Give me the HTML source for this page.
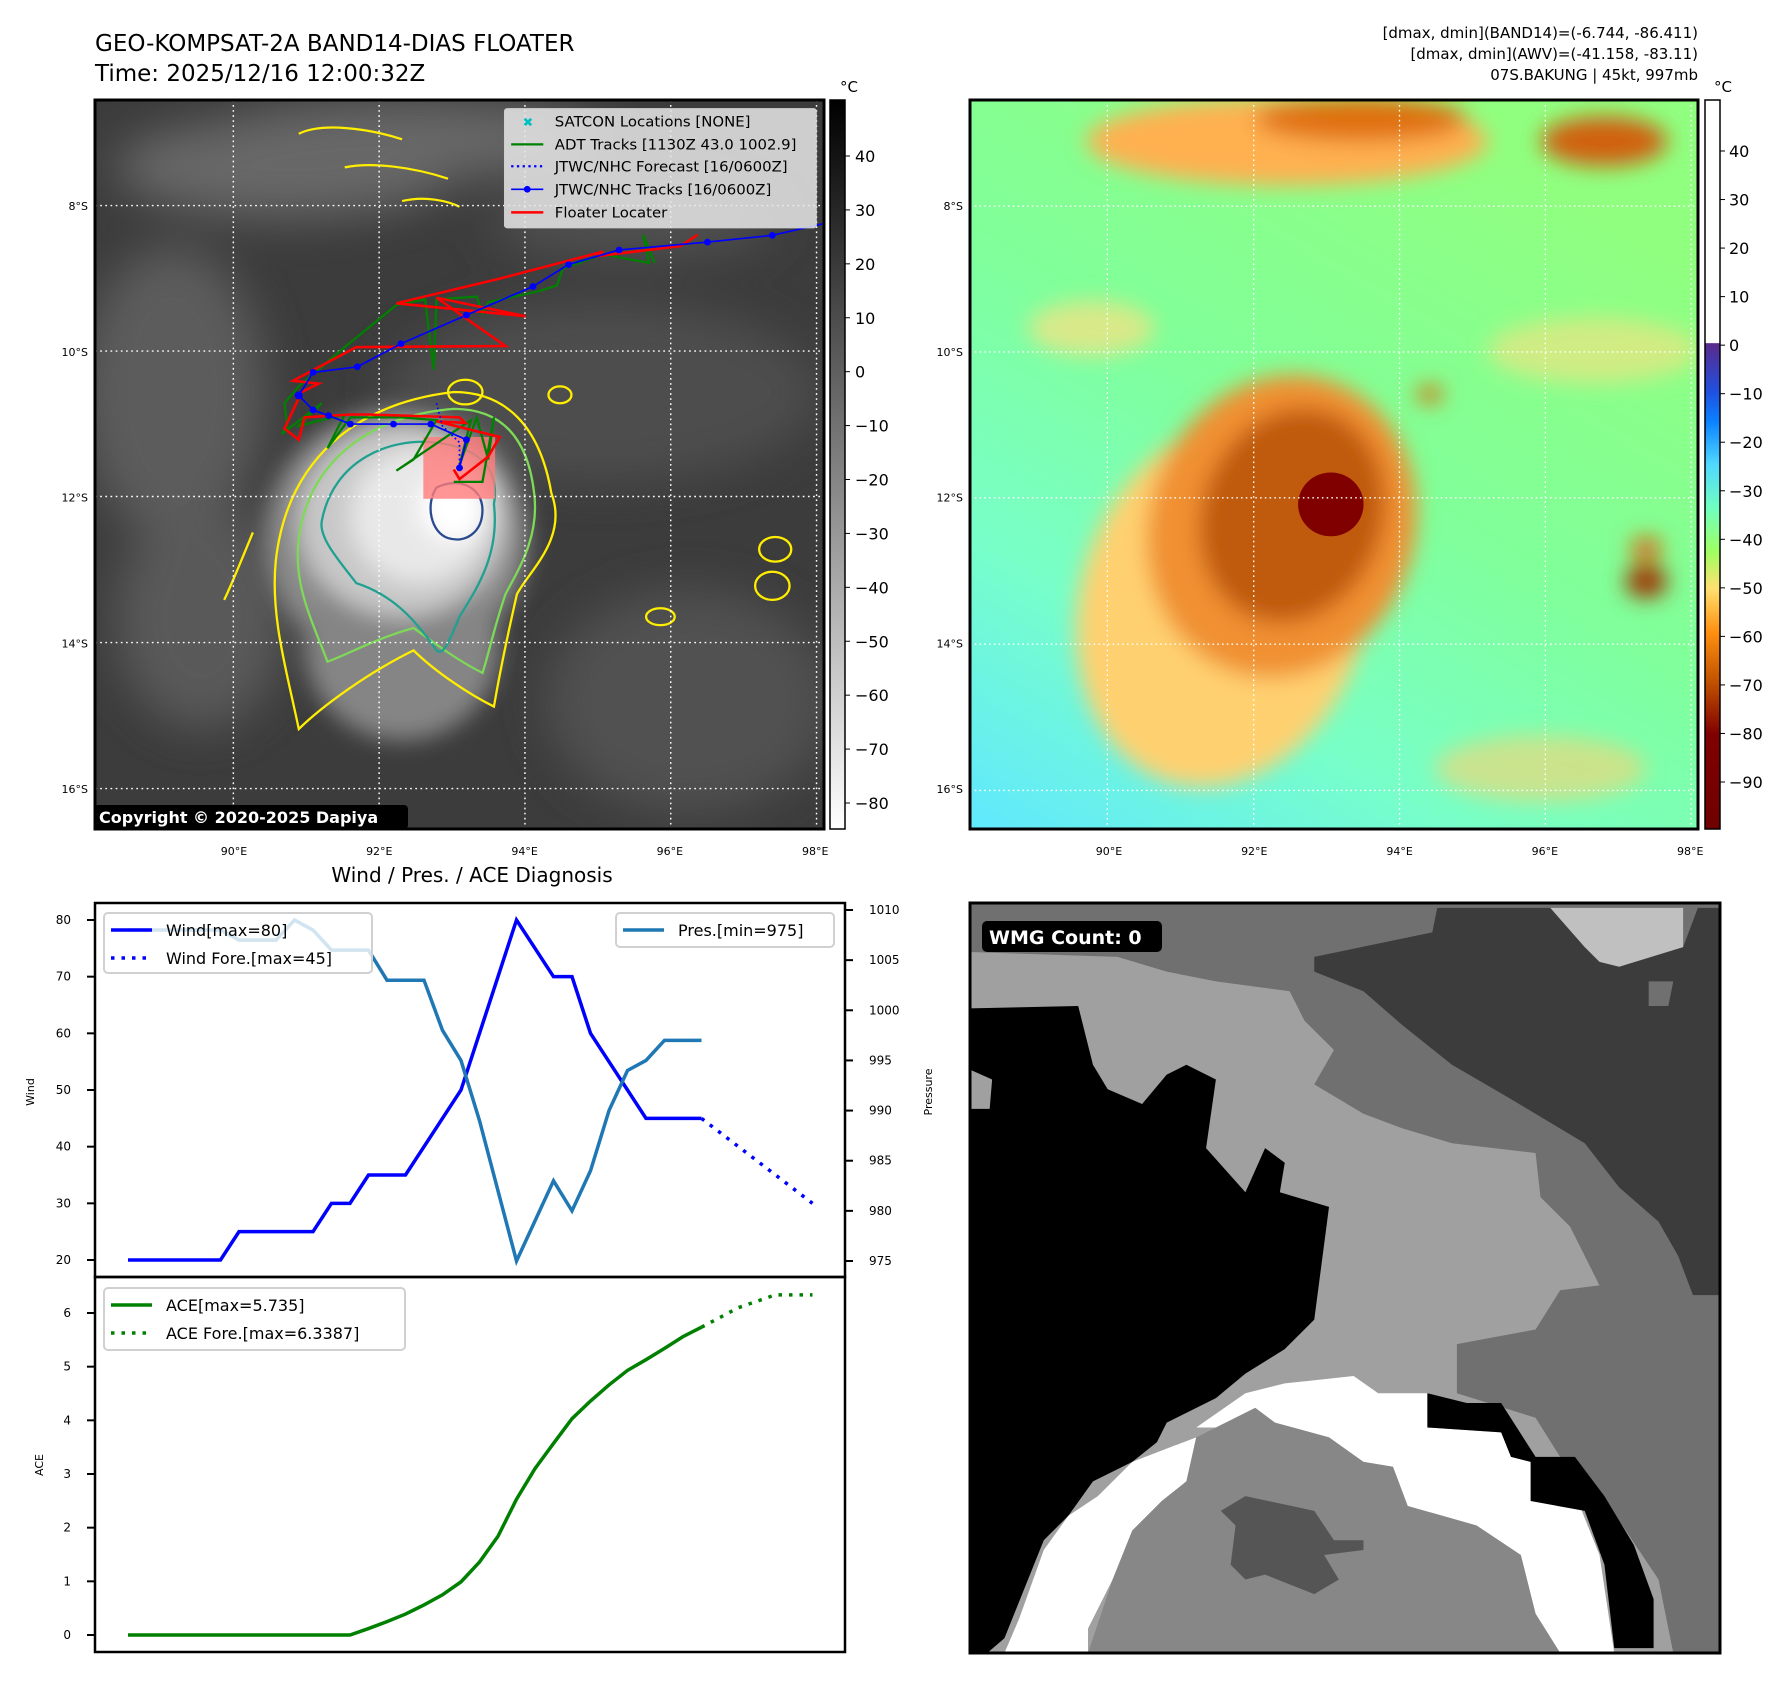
<!DOCTYPE html>
<html><head><meta charset="utf-8"><style>
html,body{margin:0;padding:0;background:#fff;}
svg text{font-family:"DejaVu Sans","Liberation Sans",sans-serif;}
</style></head><body>
<svg id="root" width="1788" height="1690" viewBox="0 0 1788 1690" xmlns="http://www.w3.org/2000/svg">
<defs>
<filter id="b8" x="-50%" y="-50%" width="200%" height="200%"><feGaussianBlur stdDeviation="8"/></filter>
<filter id="b20" x="-50%" y="-50%" width="200%" height="200%"><feGaussianBlur stdDeviation="20"/></filter>
<filter id="b40" x="-50%" y="-50%" width="200%" height="200%"><feGaussianBlur stdDeviation="40"/></filter>
<linearGradient id="cb1" x1="0" y1="0" x2="0" y2="1"><stop offset="0" stop-color="#000"/><stop offset="1" stop-color="#fff"/></linearGradient>
<linearGradient id="cb2" x1="0" y1="0" x2="0" y2="1">
<stop offset="0" stop-color="#fff"/><stop offset="0.333" stop-color="#fff"/>
<stop offset="0.334" stop-color="#5a2a8c"/><stop offset="0.40" stop-color="#2050e0"/><stop offset="0.44" stop-color="#0a80ff"/>
<stop offset="0.50" stop-color="#50d8ff"/><stop offset="0.56" stop-color="#70ffc0"/><stop offset="0.62" stop-color="#a0ff60"/>
<stop offset="0.67" stop-color="#ffe070"/><stop offset="0.73" stop-color="#ff9010"/><stop offset="0.80" stop-color="#c05000"/>
<stop offset="0.87" stop-color="#800000"/><stop offset="1" stop-color="#700000"/></linearGradient>
<linearGradient id="bg2" x1="0" y1="1" x2="0.6" y2="0"><stop offset="0" stop-color="#60e8ff"/><stop offset="0.3" stop-color="#78ffc8"/><stop offset="0.6" stop-color="#80ff9a"/><stop offset="1" stop-color="#90ff80"/></linearGradient>
</defs>

<text x="95" y="51" font-size="23">GEO-KOMPSAT-2A BAND14-DIAS FLOATER</text>
<text x="95" y="81" font-size="23">Time: 2025/12/16 12:00:32Z</text>
<g font-size="15" text-anchor="end">
<text x="1698" y="38">[dmax, dmin](BAND14)=(-6.744, -86.411)</text>
<text x="1698" y="59">[dmax, dmin](AWV)=(-41.158, -83.11)</text>
<text x="1698" y="80">07S.BAKUNG | 45kt, 997mb</text>
</g>

<!-- MAP 1 -->
<svg x="95" y="100" width="729" height="729" viewBox="165 180 1270 1298" preserveAspectRatio="none">
<rect x="165" y="180" width="1270" height="1298" fill="#3c3c3c"/>
<g filter="url(#b40)" opacity="0.7">
<ellipse cx="500" cy="300" rx="300" ry="90" fill="#7a7a7a"/>
<ellipse cx="300" cy="700" rx="160" ry="260" fill="#6a6a6a"/>
<ellipse cx="1050" cy="700" rx="380" ry="160" fill="#555"/>
<ellipse cx="1200" cy="1250" rx="250" ry="200" fill="#5a5a5a"/>
<ellipse cx="700" cy="250" rx="350" ry="70" fill="#7a7a7a"/>
<ellipse cx="350" cy="1100" rx="150" ry="200" fill="#666"/>
<ellipse cx="1100" cy="400" rx="250" ry="60" fill="#5a5a5a"/>
</g>
<g filter="url(#b20)">
<ellipse cx="690" cy="960" rx="230" ry="230" fill="#8a8a8a"/>
<ellipse cx="700" cy="1150" rx="170" ry="170" fill="#858585"/>
<ellipse cx="700" cy="930" rx="180" ry="170" fill="#c8c8c8"/>
<ellipse cx="730" cy="920" rx="120" ry="120" fill="#e8e8e8"/>
<ellipse cx="790" cy="905" rx="60" ry="60" fill="#fff"/>
</g>
<g fill="none" stroke-width="4">
<path d="M480,1000 C500,820 620,720 790,700 C880,700 940,760 960,880 C990,960 920,1020 900,1060 C880,1150 870,1200 860,1260 C820,1240 760,1200 720,1160 C640,1200 560,1260 520,1300 C500,1200 470,1100 480,1000Z" stroke="#ffee00"/>
<path d="M520,960 C540,810 660,740 790,730 C880,730 920,790 930,880 C940,960 900,1020 880,1060 C860,1120 850,1170 840,1200 C800,1180 760,1150 720,1120 C650,1140 600,1170 570,1180 C540,1100 510,1040 520,960Z" stroke="#7ed957"/>
<path d="M560,930 C580,820 680,780 760,790 C840,800 870,840 860,900 C870,990 830,1050 800,1100 C780,1150 770,1170 760,1160 C720,1100 680,1060 620,1040 C590,1000 555,960 560,930Z" stroke="#20a090"/>
<path d="M760,870 C800,850 840,870 840,910 C840,950 810,970 780,960 C750,950 740,900 760,870Z" stroke="#2a4a90"/>
<ellipse cx="810" cy="700" rx="30" ry="22" stroke="#ffee00"/>
<ellipse cx="975" cy="705" rx="20" ry="15" stroke="#ffee00"/>
<ellipse cx="1350" cy="980" rx="28" ry="22" stroke="#ffee00"/>
<ellipse cx="1345" cy="1045" rx="30" ry="25" stroke="#ffee00"/>
<ellipse cx="1150" cy="1100" rx="25" ry="15" stroke="#ffee00"/>
<path d="M520,240 C560,220 640,230 700,250 M600,300 C650,290 720,300 780,320 M700,360 C740,350 780,360 800,370" stroke="#ffee00"/>
<path d="M440,950 C420,1000 400,1050 390,1070" stroke="#ffee00"/>
</g>
<g stroke="#fff" stroke-width="2.5" stroke-dasharray="3,6">
<line x1="406" y1="180" x2="406" y2="1478"/><line x1="660" y1="180" x2="660" y2="1478"/><line x1="914" y1="180" x2="914" y2="1478"/><line x1="1168" y1="180" x2="1168" y2="1478"/><line x1="1422" y1="180" x2="1422" y2="1478"/>
<line x1="165" y1="368" x2="1435" y2="368"/><line x1="165" y1="627" x2="1435" y2="627"/><line x1="165" y1="886" x2="1435" y2="886"/><line x1="165" y1="1146" x2="1435" y2="1146"/><line x1="165" y1="1406" x2="1435" y2="1406"/>
</g>
<rect x="737" y="780" width="125" height="110" fill="#ff7a7a" opacity="0.8"/>
<polyline fill="none" stroke="#008000" stroke-width="4" points="1140,470 1120,420 1130,470 1050,455 980,480 970,510 940,520 850,540 840,560 830,530 760,535 755,660 740,535 690,545 600,620 520,690 495,720 500,760 490,775 560,720 520,760 600,740 570,800 610,745 700,745 760,750 720,820 690,840 820,750 800,830 830,745 850,820 860,745 840,860 790,860"/>
<polyline fill="none" stroke="#ff0000" stroke-width="4.5" points="1215,420 1185,440 1040,458 1050,450 870,498 690,542 915,565 760,532 880,618 620,620 510,680 555,685 525,700 495,765 520,785 530,745 610,740 640,740 800,745 810,755 760,752 870,780 850,815 800,855 790,838"/>
<polyline fill="none" stroke="#0000ff" stroke-width="3" points="1435,400 1345,421 1232,433 1078,447 990,473 928,512 812,563 698,614 622,655 545,665 520,706 545,732 572,742 610,757 685,757 750,757 812,785 800,835"/>
<g fill="#0000ff">
<circle cx="1345" cy="421" r="6"/><circle cx="1232" cy="433" r="6"/><circle cx="1078" cy="447" r="6"/><circle cx="990" cy="473" r="6"/><circle cx="928" cy="512" r="6"/><circle cx="812" cy="563" r="6"/><circle cx="698" cy="614" r="6"/><circle cx="622" cy="655" r="6"/><circle cx="545" cy="665" r="6"/><circle cx="520" cy="706" r="7"/><circle cx="545" cy="732" r="6"/><circle cx="572" cy="742" r="6"/><circle cx="610" cy="757" r="6"/><circle cx="685" cy="757" r="6"/><circle cx="750" cy="757" r="6"/><circle cx="812" cy="785" r="6"/><circle cx="800" cy="835" r="6"/>
</g>
<polyline fill="none" stroke="#0000ff" stroke-width="3" stroke-dasharray="3,5" points="760,720 770,760 800,790 800,835"/>
<g>
<rect x="878" y="195" width="544" height="213" rx="5" fill="#e8e8e8" fill-opacity="0.85" stroke="#ccc"/>
<g font-size="26" font-family="DejaVu Sans, sans-serif">
<text x="910" y="227" fill="#00bfbf" font-size="22" font-weight="bold">✖</text><text x="966" y="227">SATCON Locations [NONE]</text>
<line x1="890" y1="259" x2="946" y2="259" stroke="#008000" stroke-width="4"/><text x="966" y="268">ADT Tracks [1130Z 43.0 1002.9]</text>
<line x1="890" y1="298" x2="946" y2="298" stroke="#0000ff" stroke-width="4" stroke-dasharray="4,6"/><text x="966" y="307">JTWC/NHC Forecast [16/0600Z]</text>
<line x1="890" y1="339" x2="946" y2="339" stroke="#0000ff" stroke-width="3"/><circle cx="918" cy="339" r="6" fill="#0000ff"/><text x="966" y="348">JTWC/NHC Tracks [16/0600Z]</text>
<line x1="890" y1="380" x2="946" y2="380" stroke="#ff0000" stroke-width="4.5"/><text x="966" y="389">Floater Locater</text>
</g></g>
</svg>
<rect x="95" y="100" width="729" height="729" fill="none" stroke="#000" stroke-width="3"/>
<rect x="94" y="805" width="314" height="24" rx="4" fill="#000"/>
<text x="99" y="823" font-size="16" font-weight="bold" fill="#fff">Copyright © 2020-2025 Dapiya</text>

<rect x="830" y="100" width="15" height="729" fill="url(#cb1)" stroke="#000" stroke-width="1.5"/>
<text x="840" y="92" font-size="15">°C</text>
<g id="cb1labels" font-size="16"></g>

<!-- MAP 2 -->
<svg x="970" y="100" width="728" height="729" viewBox="20 185 1378 1325" preserveAspectRatio="none">
<rect x="20" y="185" width="1378" height="1325" fill="url(#bg2)"/>
<g filter="url(#b20)">
<ellipse cx="620" cy="260" rx="380" ry="80" fill="#ffb050"/>
<ellipse cx="760" cy="220" rx="200" ry="40" fill="#e07010"/>
<ellipse cx="1220" cy="260" rx="120" ry="45" fill="#d06010"/>
<ellipse cx="250" cy="600" rx="120" ry="50" fill="#ffe080" opacity="0.7"/>
<ellipse cx="1200" cy="640" rx="200" ry="60" fill="#ffe080" opacity="0.6"/>
<ellipse cx="500" cy="1100" rx="270" ry="340" fill="#ffd070" transform="rotate(20 500 1100)"/>
<ellipse cx="610" cy="960" rx="250" ry="280" fill="#f09030" transform="rotate(25 610 960)"/>
<ellipse cx="630" cy="940" rx="170" ry="200" fill="#c05a10" transform="rotate(25 630 940)"/>
<ellipse cx="1300" cy="1060" rx="40" ry="30" fill="#a03000"/>
<ellipse cx="1300" cy="1000" rx="30" ry="20" fill="#e06010"/>
<ellipse cx="890" cy="720" rx="25" ry="15" fill="#e06010"/>
<ellipse cx="1100" cy="1400" rx="200" ry="60" fill="#ffd070" opacity="0.6"/>
</g>
<ellipse cx="703" cy="920" rx="62" ry="58" fill="#800000"/>
<g stroke="#fff" stroke-width="2.5" stroke-dasharray="3,6">
<line x1="280" y1="185" x2="280" y2="1510"/><line x1="557" y1="185" x2="557" y2="1510"/><line x1="833" y1="185" x2="833" y2="1510"/><line x1="1109" y1="185" x2="1109" y2="1510"/><line x1="1385" y1="185" x2="1385" y2="1510"/>
<line x1="20" y1="378" x2="1398" y2="378"/><line x1="20" y1="643" x2="1398" y2="643"/><line x1="20" y1="908" x2="1398" y2="908"/><line x1="20" y1="1174" x2="1398" y2="1174"/><line x1="20" y1="1440" x2="1398" y2="1440"/>
</g>
</svg>
<rect x="970" y="100" width="728" height="729" fill="none" stroke="#000" stroke-width="3"/>
<rect x="1705" y="100" width="15" height="729" fill="url(#cb2)" stroke="#000" stroke-width="1.5"/>
<text x="1714" y="92" font-size="15">°C</text>
<g id="cb2labels" font-size="16"></g>

<g id="maplabels" font-size="11"></g>

<text x="472" y="882" font-size="20" text-anchor="middle">Wind / Pres. / ACE Diagnosis</text>
<g id="chart"></g>

<svg x="970" y="903" width="750" height="750" viewBox="0 0 1525 1530" preserveAspectRatio="none">
<rect width="1525" height="1530" fill="#a0a0a0"/>
<polygon fill="#707070" points="0,0 1525,0 1525,1530 1430,1530 1400,1380 1300,1230 1200,1130 1150,1050 990,1000 990,900 1150,870 1200,790 1280,780 1220,660 1160,600 1150,510 980,490 880,460 800,430 700,370 740,300 680,240 650,180 500,160 400,140 300,110 0,100"/>
<polygon fill="#3c3c3c" points="700,110 940,60 950,10 1100,10 1180,10 1250,90 1450,90 1480,10 1525,10 1525,800 1470,800 1440,720 1400,650 1320,580 1250,490 1100,400 980,330 880,250 800,180 700,140"/>
<polygon fill="#707070" points="1380,160 1430,160 1420,210 1380,210"/>
<polygon fill="#c0c0c0" points="1180,10 1450,10 1450,90 1320,130 1280,120 1250,90"/>
<polygon fill="#000" points="0,215 220,210 250,330 280,380 350,410 400,350 440,330 500,360 480,500 560,590 600,500 640,530 630,590 730,620 700,850 640,910 560,960 500,1010 400,1060 380,1100 330,1140 250,1180 200,1250 150,1300 110,1400 70,1500 35,1530 0,1530"/>
<polygon fill="#a0a0a0" points="0,340 45,360 40,420 0,420"/>
<polygon fill="#fff" points="460,1070 560,1000 640,980 780,965 830,1000 930,1000 930,1070 1080,1080 1100,1130 1140,1140 1140,1220 1240,1230 1280,1330 1310,1530 1200,1530 1150,1450 1120,1330 1030,1270 890,1230 860,1150 800,1140 730,1090 620,1060 580,1030 500,1070"/>
<polygon fill="#fff" points="330,1140 460,1090 440,1180 390,1220 330,1280 290,1380 240,1480 240,1530 70,1530 100,1460 150,1320 200,1250 260,1210"/>
<polygon fill="#000" points="930,1000 1010,1020 1080,1020 1150,1130 1230,1130 1290,1210 1350,1310 1390,1420 1390,1520 1310,1520 1290,1350 1250,1240 1140,1220 1140,1140 1100,1130 1080,1080 930,1070"/>
<polygon fill="#878787" points="460,1090 580,1030 620,1060 730,1090 800,1140 860,1150 890,1230 1030,1270 1120,1330 1150,1450 1200,1530 240,1530 290,1380 330,1280 390,1220 440,1180"/>
<polygon fill="#555" points="510,1240 560,1210 700,1240 740,1300 800,1300 800,1320 720,1330 750,1380 700,1410 600,1370 560,1380 530,1350 540,1270"/>
</svg>
<rect x="970" y="903" width="750" height="750" fill="none" stroke="#000" stroke-width="3"/>
<rect x="982" y="921" width="180" height="31" rx="5" fill="#000"/>
<text x="989" y="944" font-size="19" font-weight="bold" fill="#fff">WMG Count: 0</text>
</svg>

<script>
const windIdx = [0,1,2,3,4,5,6,7,8,9,10,11,12,13,14,15,16,17,18,19,20,21,22,23,24,25,26,27,28,29,30,31];
const windVals = [20,20,20,20,20,20,25,25,25,25,25,30,30,35,35,35,40,45,50,60,70,80,75,70,70,60,55,50,45,45,45,45];
const windForeIdx = [31,34,37];
const windForeVals = [45,37.5,30];
const presVals = [1008,1008,1008,1008,1008,1008,1007,1007,1007,1009,1008,1006,1006,1006,1003,1003,1003,998,995,989,982,975,979,983,980,984,990,994,995,997,997,997];
const aceVals = [0,0,0,0,0,0,0,0,0,0,0,0,0,0.12,0.25,0.39,0.56,0.75,0.99,1.36,1.84,2.53,3.1,3.57,4.03,4.36,4.66,4.93,5.13,5.34,5.56,5.735];
const aceForeIdx = [31,33,35,37];
const aceForeVals = [5.735,6.1,6.3387,6.3387];
const windTicks = [20,30,40,50,60,70,80];
const presTicks = [975,980,985,990,995,1000,1005,1010];
const aceTicks = [0,1,2,3,4,5,6];
const cb1Ticks = [40,30,20,10,0,-10,-20,-30,-40,-50,-60,-70,-80];
const cb2Ticks = [40,30,20,10,0,-10,-20,-30,-40,-50,-60,-70,-80,-90];
const lonTicks = ['90°E','92°E','94°E','96°E','98°E'];
const latTicks = ['8°S','10°S','12°S','14°S','16°S'];

const NS='http://www.w3.org/2000/svg';
function mk(tag, attrs, parent, txt){const e=document.createElementNS(NS,tag);for(const k in attrs)e.setAttribute(k,attrs[k]);if(txt!==undefined)e.textContent=txt;parent.appendChild(e);return e;}
const xS = i => 128 + i*18.5;
const yW = v => 1260 - (v-20)*(1260-920)/60;
const yP = v => 1261 - (v-975)*(1261-910)/35;
const yA = v => 1635 - v*(1635-1313)/6;
const chart=document.getElementById('chart');
function pts(idx, vals, fy){return idx.map((i,k)=>xS(i)+','+fy(vals[k])).join(' ');}

let f1=mk('rect',{x:95,y:903,width:750,height:374,fill:'none',stroke:'#000','stroke-width':2.5},chart);


let f2=mk('rect',{x:95,y:1277,width:750,height:375,fill:'none',stroke:'#000','stroke-width':2.5},chart);



windTicks.forEach(t=>{const y=yW(t);mk('line',{x1:87,y1:y,x2:95,y2:y,stroke:'#000','stroke-width':2},chart);
 const tx=mk('text',{x:71,y:y+4,'font-size':12,'text-anchor':'end'},chart,String(t));
 
 });
presTicks.forEach(t=>{const y=yP(t);mk('line',{x1:845,y1:y,x2:853,y2:y,stroke:'#000','stroke-width':2},chart);
 const tx=mk('text',{x:869,y:y+4,'font-size':12},chart,String(t));
 
 });
aceTicks.forEach(t=>{const y=yA(t);mk('line',{x1:87,y1:y,x2:95,y2:y,stroke:'#000','stroke-width':2},chart);
 const tx=mk('text',{x:71,y:y+4,'font-size':12,'text-anchor':'end'},chart,String(t));
 
 });
let l1=mk('text',{x:0,y:0,'font-size':11,'text-anchor':'middle',transform:'translate(34,1092) rotate(-90)'},chart,'Wind');


let l2=mk('text',{x:0,y:0,'font-size':11,'text-anchor':'middle',transform:'translate(932,1092) rotate(-90)'},chart,'Pressure');


let l3=mk('text',{x:0,y:0,'font-size':11,'text-anchor':'middle',transform:'translate(43,1465) rotate(-90)'},chart,'ACE');



let s1=mk('polyline',{points:pts(windIdx,windVals,yW),fill:'none',stroke:'#0000ff','stroke-width':3.5},chart);


let s2=mk('polyline',{points:pts(windForeIdx,windForeVals,yW),fill:'none',stroke:'#0000ff','stroke-width':3.5,'stroke-dasharray':'3.5,7'},chart);


let s3=mk('polyline',{points:pts(windIdx,presVals,yP),fill:'none',stroke:'#1f77b4','stroke-width':3.5},chart);


let s4=mk('polyline',{points:pts(windIdx,aceVals,yA),fill:'none',stroke:'#008000','stroke-width':3.5},chart);


let s5=mk('polyline',{points:pts(aceForeIdx,aceForeVals,yA),fill:'none',stroke:'#008000','stroke-width':3.5,'stroke-dasharray':'3.5,7'},chart);



function legend(name,x,y,w,h,rows){const g=mk('g',{},chart);
 
 
 mk('rect',{x:x,y:y,width:w,height:h,rx:4,fill:'#fff','fill-opacity':0.8,stroke:'#d0d0d0','stroke-width':2},g);
 rows.forEach((r,k)=>{const ry=y+17+k*28;const a={x1:x+7,y1:ry,x2:x+48,y2:ry,stroke:r[1],'stroke-width':3.5};if(r[2])a['stroke-dasharray']='3.5,7';mk('line',a,g);mk('text',{x:x+62,y:ry+6,'font-size':16},g,r[0]);});}
legend('wind-legend',104,913,268,60,[['Wind[max=80]','#0000ff',false],['Wind Fore.[max=45]','#0000ff',true]]);
legend('pressure-legend',616,913,218,34,[['Pres.[min=975]','#1f77b4',false]]);
legend('ace-legend',104,1288,301,62,[['ACE[max=5.735]','#008000',false],['ACE Fore.[max=6.3387]','#008000',true]]);

const cb1=document.getElementById('cb1labels');
cb1Ticks.forEach(t=>{const y=156+(40-t)*(803-156)/120;mk('line',{x1:845,y1:y,x2:850,y2:y,stroke:'#000'},cb1);mk('text',{x:855,y:y+6},cb1,t<0?'\u2212'+(-t):String(t));});
const cb2=document.getElementById('cb2labels');
cb2Ticks.forEach(t=>{const y=151+(40-t)*(782-151)/130;mk('line',{x1:1720,y1:y,x2:1725,y2:y,stroke:'#000'},cb2);mk('text',{x:1729,y:y+6},cb2,t<0?'\u2212'+(-t):String(t));});

const ml=document.getElementById('maplabels');
lonTicks.forEach((t,k)=>{const ox=139+k*145.3;mk('text',{x:95+ox,y:855,'text-anchor':'middle'},ml,t);mk('text',{x:970+ox,y:855,'text-anchor':'middle'},ml,t);});
latTicks.forEach((t,k)=>{const y=206+k*145.8;mk('text',{x:88,y:y+4,'text-anchor':'end'},ml,t);mk('text',{x:963,y:y+4,'text-anchor':'end'},ml,t);});
</script>
</body></html>
